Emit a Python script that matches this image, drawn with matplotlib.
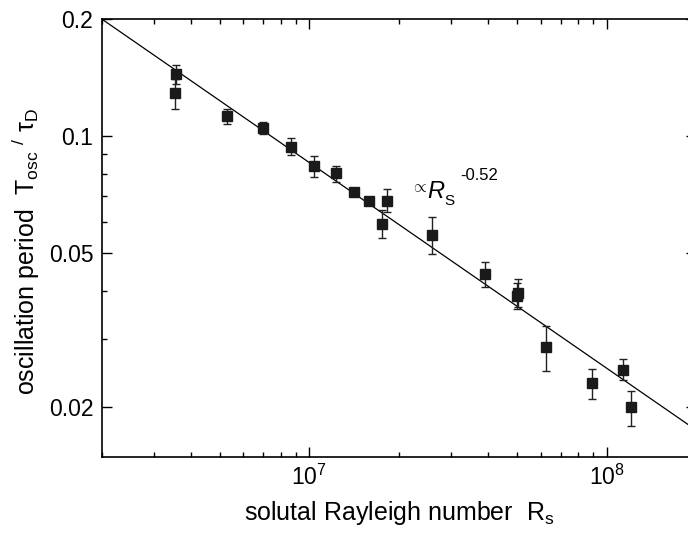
import numpy as np
import matplotlib
matplotlib.use("Agg")
import matplotlib.pyplot as plt
from matplotlib.ticker import FixedLocator, NullFormatter, FixedFormatter, LogLocator

plt.rcParams['font.family'] = ['Liberation Sans', 'DejaVu Sans']
plt.rcParams['mathtext.fontset'] = 'custom'
plt.rcParams['mathtext.rm'] = 'Liberation Sans'
plt.rcParams['mathtext.it'] = 'Liberation Sans:italic'
plt.rcParams['mathtext.bf'] = 'Liberation Sans:bold'

# solutal Rayleigh number and oscillation period
Rs = [3.52e6, 3.57e6, 5.30e6, 7.0e6, 8.7e6, 1.04e7, 1.226e7, 1.41e7, 1.59e7, 1.82e7,
      1.75e7, 2.58e7, 3.89e7, 5.04e7, 4.98e7, 6.24e7, 8.94e7, 1.14e8, 1.205e8]
T = [0.1288, 0.1441, 0.1125, 0.1046, 0.0938, 0.0837, 0.0801, 0.0719, 0.0680, 0.0680,
     0.0592, 0.0557, 0.0441, 0.0395, 0.0387, 0.0287, 0.0231, 0.0250, 0.0200]
T_hi = [0.1399, 0.1525, 0.1175, 0.1086, 0.0990, 0.0888, 0.0838, 0.0731, 0.0692, 0.0731,
        0.0644, 0.0617, 0.0475, 0.0429, 0.0419, 0.0325, 0.0251, 0.0267, 0.0221]
T_lo = [0.1173, 0.1361, 0.1075, 0.1012, 0.0892, 0.0784, 0.0762, 0.0707, 0.0668, 0.0636,
        0.0545, 0.0496, 0.0409, 0.0363, 0.0358, 0.0248, 0.0210, 0.0235, 0.01795]

# power-law fit line end points
fit_R = [2e6, 2e8]
fit_T = [0.2, 0.0175]

y_major = [0.02, 0.05, 0.1, 0.2]
y_major_labels = ["0.02", "0.05", "0.1", "0.2"]
y_minor = [0.03, 0.04, 0.06, 0.07, 0.08, 0.09]

T = np.array(T)
yerr = [T - np.array(T_lo), np.array(T_hi) - T]

fig = plt.figure(figsize=(6.88, 5.36), dpi=100)
ax = fig.add_axes([0.1478, 0.148, 0.8638, 0.8166])

ax.plot(fit_R, fit_T, color='black', lw=0.9)
ax.errorbar(Rs, T, yerr=yerr, fmt='s', color='#1a1a1a', ms=6.8, ecolor='#222222',
            elinewidth=1.0, capsize=3.2, capthick=1.0)

ax.set_xscale('log')
ax.set_yscale('log')
ax.set_xlim(2e6, 2e8)
ax.set_ylim(0.01494, 0.2)

ax.xaxis.set_major_locator(LogLocator(base=10))
ax.xaxis.set_minor_locator(LogLocator(base=10, subs=np.arange(2, 10)))
ax.xaxis.set_minor_formatter(NullFormatter())
ax.yaxis.set_major_locator(FixedLocator(y_major))
ax.yaxis.set_major_formatter(FixedFormatter(y_major_labels))
ax.yaxis.set_minor_locator(FixedLocator(y_minor))
ax.yaxis.set_minor_formatter(NullFormatter())

ax.tick_params(which='both', direction='in', top=True, right=True, width=1.0)
ax.tick_params(which='major', length=7, labelsize=16.5, pad=6)
ax.tick_params(which='minor', length=3.5)
for s in ax.spines.values():
    s.set_linewidth(1.2)

ax.set_xlabel(r'solutal Rayleigh number  R$_{\mathrm{s}}$', fontsize=18, labelpad=6)
ax.set_ylabel(r'oscillation period  T$_{\mathrm{osc}}$ $^{/}$ τ$_{\mathrm{D}}$', fontsize=18)
ax.yaxis.set_label_coords(-0.101, 0.469)

# annotation  ~ R_S^-0.52
ax.text(2.34e7, 0.0737, r'$\propto$', fontsize=12, ha='center', va='center')
ax.text(2.50e7, 0.0692, 'R', fontsize=17, style='italic', ha='left', va='baseline')
ax.text(2.84e7, 0.0664, 'S', fontsize=11, ha='left', va='baseline')
ax.text(3.23e7, 0.0770, '-0.52', fontsize=12, ha='left', va='baseline')

fig.savefig("out.png", dpi=100)
